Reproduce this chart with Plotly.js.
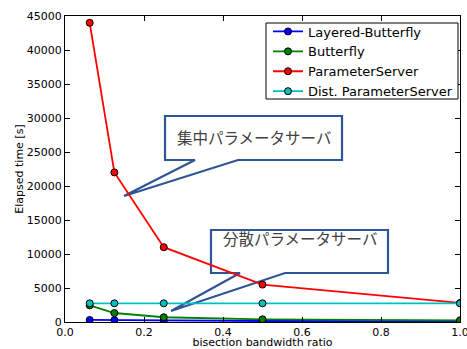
<!DOCTYPE html>
<html>
<head>
<meta charset="utf-8">
<script src="https://cdn.plot.ly/plotly-3.0.1.min.js"></script>
<style>html,body{margin:0;padding:0;background:#fff;}#chart{width:467px;height:349px;}</style>
</head>
<body>
<div id="chart"></div>
<script>
const ratios = [0.0625, 0.125, 0.25, 0.5, 1.0];
const layeredButterfly = [300, 280, 200, 150, 120];
const butterfly = [2450, 1320, 700, 400, 250];
const parameterServer = [44000, 22000, 11000, 5500, 2800];
const distParameterServer = [2750, 2750, 2750, 2750, 2750];
const seriesNames = ["Layered-Butterfly", "Butterfly", "ParameterServer", "Dist. ParameterServer"];
const seriesColors = ["#0000ff", "#008000", "#ff0000", "#00bfbf"];
const calloutTexts = ["集中パラメータサーバ", "分散パラメータサーバ"];
const yTicks = [0, 5000, 10000, 15000, 20000, 25000, 30000, 35000, 40000, 45000];
const xTicks = [0, 0.2, 0.4, 0.6, 0.8, 1.0];

const seriesValues = [layeredButterfly, butterfly, parameterServer, distParameterServer];
const traces = seriesValues.map((vals, i) => ({
  x: ratios, y: vals, name: seriesNames[i], type: 'scatter', mode: 'lines+markers',
  line: {color: seriesColors[i], width: 1.8},
  marker: {color: seriesColors[i], size: 7, line: {color: '#000', width: 1}}
}));

// pixel -> paper helpers for the callout boxes and legend frame
const L = 65, R = 460, T = 16, B = 322;
const px = v => (v - L) / (R - L);
const py = v => (B - v) / (B - T);
function callout(left, right, top, bottom, ax, bx, tx, ty) {
  const pts = [[left, top], [right, top], [right, bottom], [bx, bottom], [tx, ty], [ax, bottom], [left, bottom]];
  return 'M' + pts.map(p => px(p[0]).toFixed(4) + ',' + py(p[1]).toFixed(4)).join(' L') + ' Z';
}
const shapes = [
  {type: 'path', xref: 'paper', yref: 'paper', layer: 'below',
   path: callout(165, 342, 116, 160, 195, 238, 124, 196),
   line: {color: '#2f5597', width: 2.2}, fillcolor: 'rgba(255,255,255,0)'},
  {type: 'path', xref: 'paper', yref: 'paper', layer: 'below',
   path: callout(211, 388, 230, 273, 240, 285, 171, 311),
   line: {color: '#2f5597', width: 2.2}, fillcolor: 'rgba(255,255,255,0)'},
  {type: 'rect', xref: 'paper', yref: 'paper', layer: 'above',
   x0: px(266), x1: px(458), y0: py(99), y1: py(23),
   line: {color: '#000', width: 1}, fillcolor: '#fff'}
];
const annotations = [
  {xref: 'paper', yref: 'paper', x: px(253.5), y: py(137), text: calloutTexts[0], showarrow: false,
   font: {family: '"Noto Sans CJK JP", sans-serif', size: 15.5, color: '#404040'}},
  {xref: 'paper', yref: 'paper', x: px(299.5), y: py(251), text: calloutTexts[1], showarrow: false,
   font: {family: '"Noto Sans CJK JP", sans-serif', size: 15.5, color: '#404040'}}
];

const axisCommon = {showline: true, linecolor: '#000', linewidth: 1, mirror: 'ticks', ticks: 'inside',
  ticklen: 5, tickcolor: '#000', showgrid: false, zeroline: false, ticklabeloverflow: 'allow',
  tickfont: {family: 'DejaVu Sans', size: 11, color: '#000'}};

const layout = {
  width: 467, height: 349,
  margin: {l: L, r: 467 - R, t: T, b: 349 - B},
  paper_bgcolor: '#fff', plot_bgcolor: '#fff',
  font: {family: 'DejaVu Sans', color: '#000'},
  showlegend: true,
  legend: {x: px(268), y: py(16.5), xanchor: 'left', yanchor: 'top', borderwidth: 0,
    bgcolor: 'rgba(255,255,255,0)', font: {family: 'DejaVu Sans', size: 13, color: '#000'}, tracegroupgap: 0},
  xaxis: Object.assign({}, axisCommon, {range: [0, 1], tickvals: xTicks, tickformat: '.1f',
    title: {text: 'bisection bandwidth ratio', font: {family: 'DejaVu Sans', size: 11}, standoff: 0}}),
  yaxis: Object.assign({}, axisCommon, {range: [0, 45000], tickvals: yTicks, tickformat: 'd',
    title: {text: 'Elapsed time [s]', font: {family: 'DejaVu Sans', size: 11}, standoff: 0}}),
  shapes: shapes,
  annotations: annotations
};
Plotly.newPlot('chart', traces, layout, {displayModeBar: false, staticPlot: true});
</script>
</body>
</html>
